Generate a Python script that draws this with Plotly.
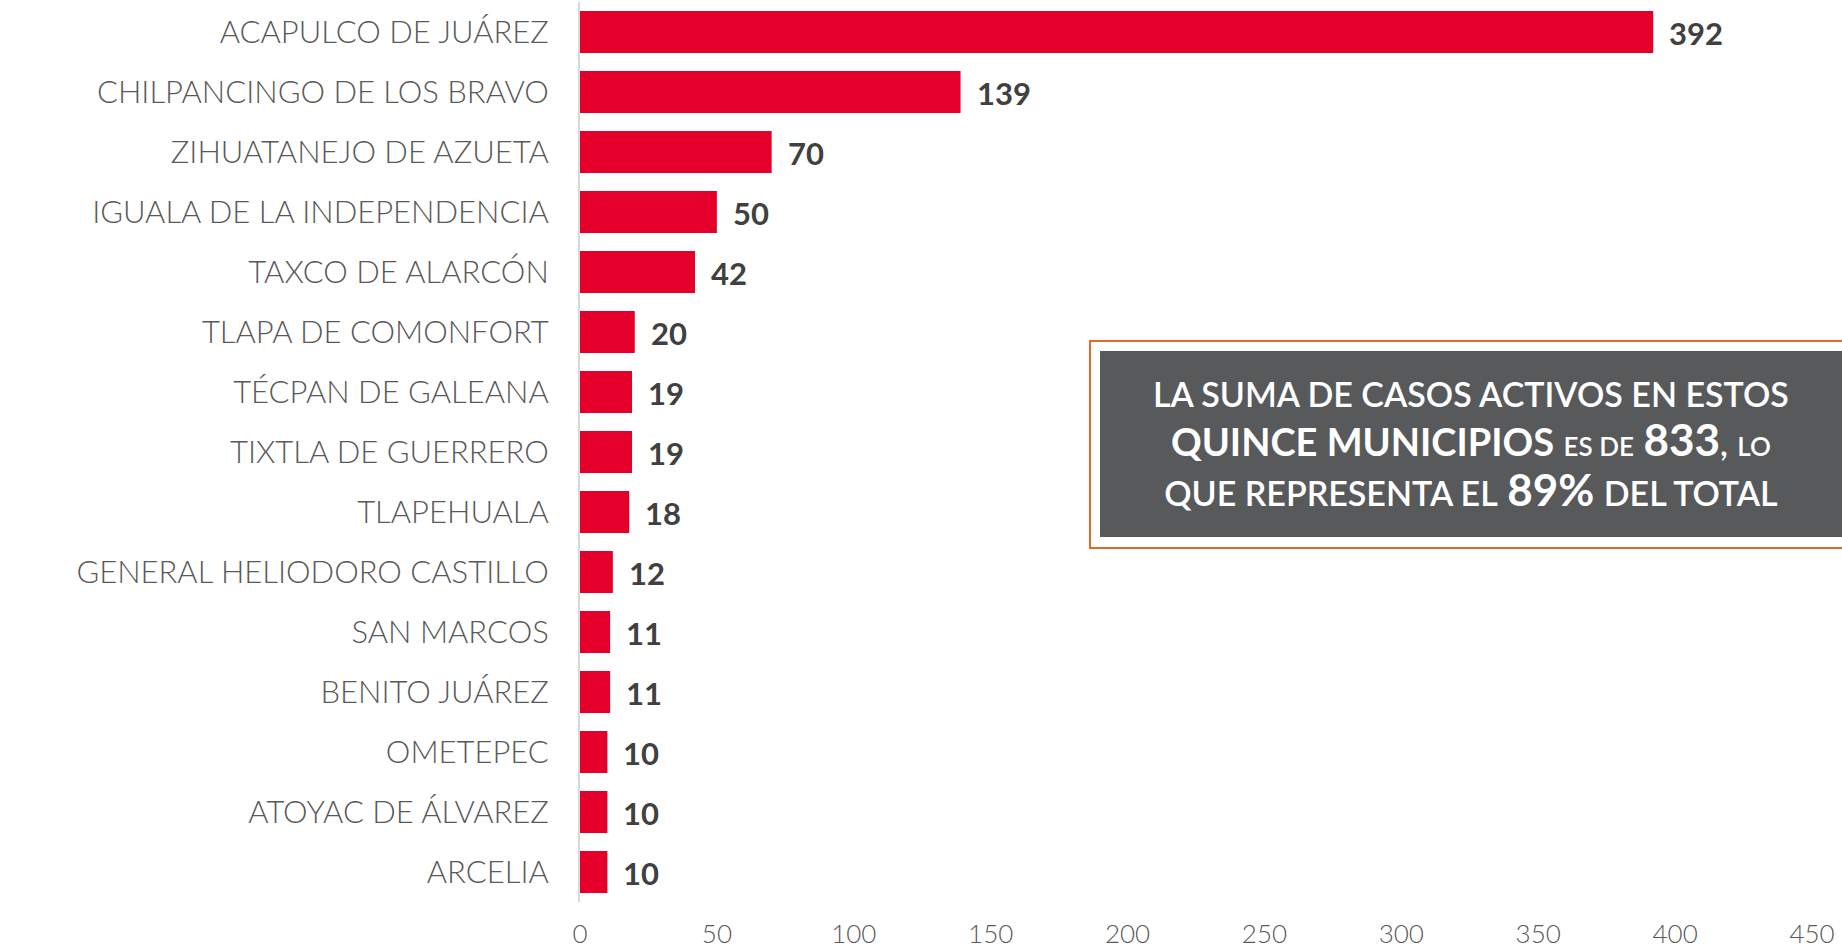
import plotly.graph_objects as go

municipios = ["ACAPULCO DE JUÁREZ", "CHILPANCINGO DE LOS BRAVO", "ZIHUATANEJO DE AZUETA",
              "IGUALA DE LA INDEPENDENCIA", "TAXCO DE ALARCÓN", "TLAPA DE COMONFORT",
              "TÉCPAN DE GALEANA", "TIXTLA DE GUERRERO", "TLAPEHUALA",
              "GENERAL HELIODORO CASTILLO", "SAN MARCOS", "BENITO JUÁREZ",
              "OMETEPEC", "ATOYAC DE ÁLVAREZ", "ARCELIA"]
casos = [392, 139, 70, 50, 42, 20, 19, 19, 18, 12, 11, 11, 10, 10, 10]
x_ticks = [0, 50, 100, 150, 200, 250, 300, 350, 400, 450]

FONT = "Lato"
RED = "#E4002B"

fig = go.Figure(go.Bar(
    y=municipios, x=casos, orientation="h",
    marker=dict(color=RED, line=dict(width=0)),
    hoverinfo="skip",
))

annotations = []
for m, v in zip(municipios, casos):
    annotations.append(dict(
        x=v, y=m, xref="x", yref="y", text=f"<b>{v}</b>", showarrow=False,
        xanchor="left", yanchor="middle", xshift=14, yshift=-1,
        font=dict(family=FONT, size=31, color="#404040"),
    ))

annotations.append(dict(
    x=(1471 - 580) / 1232, y=1 - (444 - 2) / 900, xref="paper", yref="paper",
    xanchor="center", yanchor="middle",
    showarrow=False, align="center",
    text=("<span style='font-size:34px'>LA SUMA DE CASOS ACTIVOS EN ESTOS</span><br>"
          "<b><span style='font-size:38px'>QUINCE MUNICIPIOS</span></b> "
          "<span style='font-size:26px'>ES DE</span> "
          "<b><span style='font-size:44px'>833</span></b><span style='font-size:34px'>,</span> "
          "<span style='font-size:26px'>LO</span><br>"
          "<span style='font-size:34px'>QUE REPRESENTA EL</span> "
          "<b><span style='font-size:44px'>89%</span></b> "
          "<span style='font-size:34px'>DEL TOTAL</span>"),
    font=dict(family=FONT, size=38, color="white", weight=600),
))

shapes = [
    dict(type="rect", xref="paper", yref="paper", layer="above",
         x0=(1090 - 580) / 1232, x1=(1860 - 580) / 1232,
         y0=1 - (548 - 2) / 900, y1=1 - (341 - 2) / 900,
         line=dict(color="#E06A2C", width=2), fillcolor="rgba(0,0,0,0)"),
    dict(type="rect", xref="paper", yref="paper", layer="below",
         x0=(1100 - 580) / 1232, x1=(1860 - 580) / 1232,
         y0=1 - (537 - 2) / 900, y1=1 - (351 - 2) / 900,
         line=dict(width=0), fillcolor="#58595B"),
]

fig.update_layout(
    width=1842, height=948,
    margin=dict(l=580, r=30, t=2, b=46, autoexpand=False),
    paper_bgcolor="white", plot_bgcolor="white",
    bargap=0.3,
    showlegend=False,
    annotations=annotations,
    shapes=shapes,
    xaxis=dict(range=[0, 450], tickvals=x_ticks, showgrid=False, zeroline=False,
               showline=False, ticks="", ticklabelstandoff=14,
               tickfont=dict(family=FONT, size=26, color="#595959", weight=300)),
    yaxis=dict(autorange="reversed", showgrid=False, zeroline=False,
               showline=True, linecolor="#D9D9D9", linewidth=2, ticks="",
               ticklabelstandoff=23,
               tickfont=dict(family=FONT, size=31, color="#595959", weight=300)),
)

fig.write_html("out.html", config={"displayModeBar": False},
               post_script="document.body.style.margin='0';document.body.style.overflow='hidden';")
